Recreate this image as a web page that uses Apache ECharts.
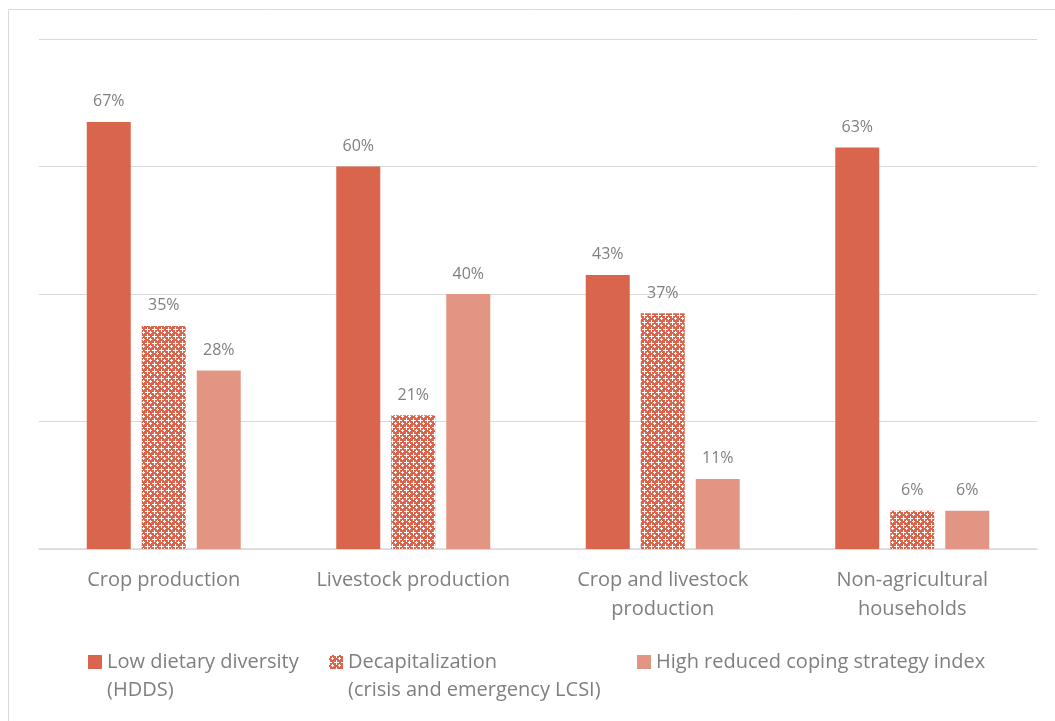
<!DOCTYPE html>
<html>
<head>
<meta charset="utf-8">
<script src="https://cdn.jsdelivr.net/npm/echarts@6/dist/echarts.min.js"></script>
<style>
  html, body { margin: 0; padding: 0; background: #fff; }
  #chart { width: 1055px; height: 721px; }
</style>
</head>
<body>
<div id="chart"></div>
<script>
// Household livelihood groups and indicator shares (%)
const categories = ['Crop production', 'Livestock production', 'Crop and livestock\nproduction', 'Non-agricultural\nhouseholds'];
const seriesNames = ['Low dietary diversity\n(HDDS)', 'Decapitalization\n(crisis and emergency LCSI)', 'High reduced coping strategy index'];
const lowDietaryDiversity = [67, 60, 43, 63];
const decapitalization = [35, 21, 37, 6];
const highRCSI = [28, 40, 11, 6];
const yTicks = [0, 20, 40, 60, 80];

const RED = '#d9654c';
const PINK = '#e39584';
const TEXT = '#7f7f7f';
const FONT = '"Open Sans", "Liberation Sans", sans-serif';

// Small repeating tile: red field broken by white plus shapes
function crossTile() {
  const c = document.createElement('canvas');
  c.width = 7; c.height = 7;
  const g = c.getContext('2d');
  g.fillStyle = RED;
  g.fillRect(0, 0, 7, 7);
  g.fillStyle = '#ffffff';
  // plus at the tile corner (wraps across neighbouring tiles)
  [[0, 0], [1, 0], [2, 0], [5, 0], [6, 0], [0, 1], [0, 2], [0, 5], [0, 6],
   // plus at the tile centre
   [3, 3], [2, 3], [4, 3], [3, 2], [3, 4]].forEach(([x, y]) => g.fillRect(x, y, 1, 1));
  return c;
}
const patternFill = { image: crossTile(), repeat: 'repeat' };

const chart = echarts.init(document.getElementById('chart'), null, { renderer: 'canvas' });

const labelStyle = {
  show: true,
  position: 'top',
  distance: 12,
  color: TEXT,
  fontFamily: FONT,
  fontSize: 16,
  formatter: p => p.value + '%'
};

// One legend per series so each entry sits at its own x position;
// a leading blank line keeps the swatch level with the first text line.
function legendAt(left, top, name) {
  return {
    left: left,
    top: top,
    padding: 0,
    icon: 'rect',
    itemWidth: 14,
    itemHeight: 14,
    itemGap: 0,
    data: [name],
    selectedMode: false,
    formatter: n => (n.indexOf('\n') >= 0 ? '\n' + n : n),
    textStyle: {
      color: TEXT,
      fontFamily: FONT,
      fontSize: 20,
      lineHeight: 28
    }
  };
}

chart.setOption({
  animation: false,
  backgroundColor: '#ffffff',
  graphic: [{
    type: 'rect',
    shape: { x: 8.5, y: 9.5, width: 1200, height: 900 },
    style: { fill: 'none', stroke: '#d9d9d9', lineWidth: 1 },
    silent: true
  }],
  legend: [
    legendAt(88, 620, seriesNames[0]),
    legendAt(329, 620, seriesNames[1]),
    legendAt(637, 648, seriesNames[2])
  ],
  grid: { left: 39, right: 18, top: 39, bottom: 172 },
  xAxis: {
    type: 'category',
    data: categories,
    axisLine: { show: true, lineStyle: { color: '#d9d9d9', width: 1.5 } },
    axisTick: { show: false },
    axisLabel: {
      interval: 0,
      color: TEXT,
      fontFamily: FONT,
      fontSize: 20,
      lineHeight: 29,
      margin: 17
    }
  },
  yAxis: {
    type: 'value',
    min: yTicks[0],
    max: yTicks[yTicks.length - 1],
    interval: 20,
    axisLabel: { show: false },
    axisLine: { show: false },
    axisTick: { show: false },
    splitLine: { lineStyle: { color: '#d9d9d9', width: 1 } }
  },
  series: [
    {
      name: seriesNames[0],
      type: 'bar',
      data: lowDietaryDiversity,
      barWidth: 44,
      barGap: '25%',
      itemStyle: { color: RED },
      label: labelStyle
    },
    {
      name: seriesNames[1],
      type: 'bar',
      data: decapitalization,
      barWidth: 44,
      barGap: '25%',
      itemStyle: { color: patternFill },
      label: labelStyle
    },
    {
      name: seriesNames[2],
      type: 'bar',
      data: highRCSI,
      barWidth: 44,
      barGap: '25%',
      itemStyle: { color: PINK },
      label: labelStyle
    }
  ]
});
</script>
</body>
</html>
